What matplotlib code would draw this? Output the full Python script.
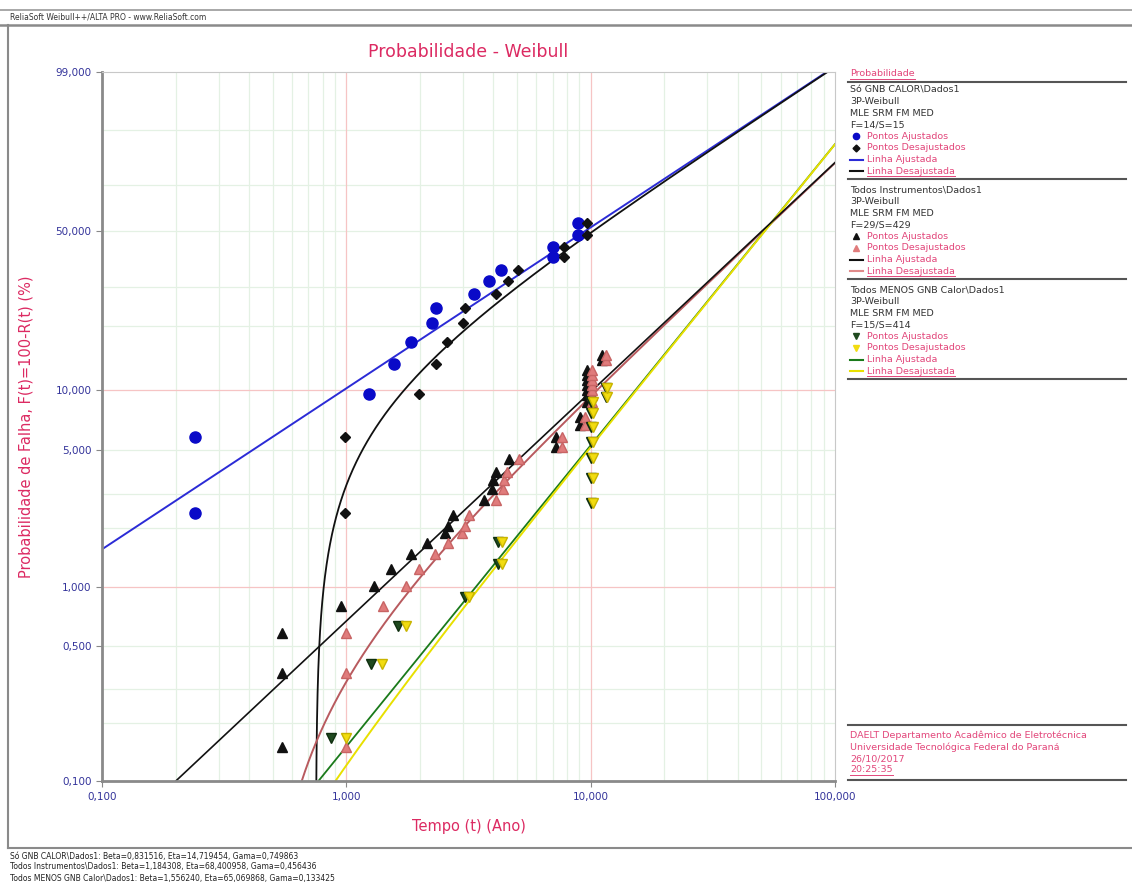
import numpy as np
import matplotlib
matplotlib.use("Agg")
import matplotlib.pyplot as plt

# ---- 3-parameter Weibull fits (beta, eta, gamma) ----
gnb_beta, gnb_eta, gnb_gamma = 0.831516, 14.719454, 0.749863
tod_beta, tod_eta, tod_gamma = 1.184308, 68.400958, 0.456436
men_beta, men_eta, men_gamma = 1.556240, 65.069868, 0.133425

# ---- failure times (years) and unreliability (%) ----
gnb_t = [0.99, 0.99, 1.99, 2.32, 2.59, 2.99, 3.07, 4.08, 4.57, 5.06, 7.76, 7.76, 9.63, 9.63]
gnb_f = [2.40, 5.81, 9.51, 13.3, 16.9, 20.7, 24.3, 28.0, 31.8, 35.4, 39.9, 43.7, 48.4, 53.4]

tod_t = [1.0, 1.0, 1.0, 1.41, 1.76, 1.985, 2.30, 2.60, 2.98, 3.07, 3.18, 4.10, 4.39, 4.43,
         4.54, 5.07, 7.64, 7.64, 9.47, 9.47, 10.08, 10.1, 10.1, 10.1, 10.1, 10.1, 10.1,
         11.6, 11.6]
tod_f = [0.15, 0.36, 0.58, 0.80, 1.01, 1.24, 1.48, 1.68, 1.89, 2.06, 2.34, 2.79, 3.17, 3.53,
         3.87, 4.51, 5.18, 5.81, 6.68, 7.32, 8.69, 9.41, 9.96, 10.5, 11.1, 11.8, 12.4,
         13.9, 14.7]

men_t = [1.0, 1.40, 1.76, 3.18, 4.32, 4.32, 10.2, 10.2, 10.2, 10.2, 10.2, 10.2, 10.2,
         11.7, 11.7]
men_f = [0.167, 0.40, 0.63, 0.89, 1.31, 1.70, 2.69, 3.61, 4.56, 5.49, 6.53, 7.66, 8.69,
         9.19, 10.2]

x_ticks = [0.1, 1, 10, 100]
y_ticks = [0.1, 0.5, 1, 5, 10, 50, 99]

TXT_RED = "#dc2a62"
LEG_RED = "#e2467a"
TICK_BLUE = "#33339a"
GRID = "#e4f1e4"


def weib_fwd(p):
    p = np.clip(np.asarray(p, dtype=float), 1e-7, 99.99999)
    return np.log(-np.log(1.0 - p / 100.0))


def weib_inv(w):
    return 100.0 * (1.0 - np.exp(-np.exp(np.asarray(w, dtype=float))))


def cdf_pct(x, beta, eta):
    x = np.asarray(x, dtype=float)
    return 100.0 * (1.0 - np.exp(-(x / eta) ** beta))


W, H = 1132, 882
fig = plt.figure(figsize=(W / 100, H / 100), dpi=100)
fig.patch.set_facecolor("white")

L, R, T, B = 102, 835, 72, 781
ax = fig.add_axes([L / W, 1 - B / H, (R - L) / W, (B - T) / H])
ax.set_xscale("log")
ax.set_yscale("function", functions=(weib_fwd, weib_inv))
ax.set_xlim(0.1, 100)
ax.set_ylim(0.1, 99)

# grid
for dec in [0.1, 1, 10]:
    for k in range(2, 10):
        ax.axvline(dec * k, color=GRID, lw=0.9, zorder=0)
for xv in [1, 10]:
    ax.axvline(xv, color="#f6c4c4", lw=0.9, zorder=0.5)
for v in [0.2, 0.3, 0.5, 2, 3, 5, 20, 30, 50, 70, 90]:
    ax.axhline(v, color=GRID, lw=0.9, zorder=0)
for yv in [1, 10]:
    ax.axhline(yv, color="#f6c4c4", lw=0.9, zorder=0.5)

# fitted lines
xa = np.logspace(-1, 2, 600)
d = np.logspace(-7, 2.05, 1500)

ax.plot(xa, cdf_pct(xa, gnb_beta, gnb_eta), color="#2b2bd6", lw=1.4, zorder=2)
ax.plot(d + gnb_gamma, cdf_pct(d, gnb_beta, gnb_eta), color="#111111", lw=1.3, zorder=2)

ax.plot(d + tod_gamma, cdf_pct(d, tod_beta, tod_eta), color="#b85a5e", lw=1.4, zorder=2)
ax.plot(xa, cdf_pct(xa, tod_beta, tod_eta), color="#111111", lw=1.2, zorder=2.1)

ax.plot(xa, cdf_pct(xa, men_beta, men_eta), color="#1a7a1a", lw=1.3, zorder=2)
ax.plot(d + men_gamma, cdf_pct(d, men_beta, men_eta), color="#e8e000", lw=1.4, zorder=2)

# data points: adjusted points plotted at t - gamma
gt = np.array(gnb_t)
tt = np.array(tod_t)
mt = np.array(men_t)
ax.plot(gt - gnb_gamma, gnb_f, "o", color="#0a0ac8", ms=8, mec="#0a0ac8", zorder=4, ls="none")
ax.plot(gt, gnb_f, "D", color="#111111", ms=5.5, zorder=4, ls="none")
ax.plot(tt - tod_gamma, tod_f, "^", color="#111111", ms=7, zorder=4, ls="none")
ax.plot(tt, tod_f, "^", color="#e07c7c", mec="#c86464", ms=7, zorder=4.2, ls="none")
ax.plot(mt - men_gamma, men_f, "v", color="#1f4a1f", mec="#0e2e0e", ms=7, zorder=4.4, ls="none")
ax.plot(mt, men_f, "v", color="#f2dc10", mec="#c8b400", ms=7, zorder=4.6, ls="none")

# ticks
ax.set_xticks(x_ticks)
ax.set_xticklabels([f"{v:.3f}".replace(".", ",") for v in x_ticks])
ax.set_yticks(y_ticks)
ax.set_yticklabels([f"{v:.3f}".replace(".", ",") for v in y_ticks])
ax.minorticks_off()
ax.tick_params(axis="both", colors="#888888", labelcolor=TICK_BLUE, labelsize=7.5,
               length=4, width=0.8)
ax.tick_params(axis="x", pad=4)
for s in ["left", "bottom"]:
    ax.spines[s].set_color("#8a8a8a")
    ax.spines[s].set_linewidth(2)
for s in ["top", "right"]:
    ax.spines[s].set_color("#c8c8c8")
    ax.spines[s].set_linewidth(0.8)

ax.set_title("Probabilidade - Weibull", color=TXT_RED, fontsize=12.5, pad=11)
ax.set_xlabel("Tempo (t) (Ano)", color=TXT_RED, fontsize=10.5, labelpad=12)
ax.set_ylabel("Probabilidade de Falha, F(t)=100-R(t) (%)", color=TXT_RED, fontsize=10.5,
              labelpad=16)

# ---- overlay in pixel coordinates for frame, legend panel and footer ----
ov = fig.add_axes([0, 0, 1, 1], zorder=10)
ov.set_xlim(0, W)
ov.set_ylim(H, 0)
ov.axis("off")
ov.patch.set_visible(False)

ov.plot([0, W], [10, 10], color="#9a9a9a", lw=1.2)
ov.plot([0, W], [25, 25], color="#8a8a8a", lw=1.8)
ov.text(10, 17.5, "ReliaSoft Weibull++/ALTA PRO - www.ReliaSoft.com", fontsize=5.5,
        color="#333333", va="center")
ov.plot([8, 8], [25, 848], color="#8a8a8a", lw=1.5)
ov.plot([8, W], [848, 848], color="#8a8a8a", lw=1.5)

footer = ["Só GNB CALOR\\Dados1: Beta=0,831516, Eta=14,719454, Gama=0,749863",
          "Todos Instrumentos\\Dados1: Beta=1,184308, Eta=68,400958, Gama=0,456436",
          "Todos MENOS GNB Calor\\Dados1: Beta=1,556240, Eta=65,069868, Gama=0,133425"]
for i, s in enumerate(footer):
    ov.text(10, 856 + i * 11, s, fontsize=5.5, color="#222222", va="center")

LX0, LX1 = 848, 1126
underlines = []


def ltext(x, y, s, color, underline=False):
    t = ov.text(x, y, s, fontsize=6.8, color=color, va="center")
    if underline:
        underlines.append((t, y))
    return t


ltext(850, 74, "Probabilidade", LEG_RED, underline=True)
ov.plot([LX0, LX1], [82, 82], color="#555555", lw=1.5)

blocks = [
    ("Só GNB CALOR\\Dados1", "F=14/S=15",
     dict(marker="o", color="#0a0ac8"), dict(marker="D", color="#111111", ms=3.5),
     "#2b2bd6", "#111111"),
    ("Todos Instrumentos\\Dados1", "F=29/S=429",
     dict(marker="^", color="#111111"), dict(marker="^", color="#e07c7c"),
     "#111111", "#e08a8a"),
    ("Todos MENOS GNB Calor\\Dados1", "F=15/S=414",
     dict(marker="v", color="#1f4a1f"), dict(marker="v", color="#f2dc10"),
     "#1a7a1a", "#e8e000"),
]
y0 = 90
step = 11.6
for name, fs, m1, m2, c1, c2 in blocks:
    ltext(850, y0, name, "#333333")
    ltext(850, y0 + step, "3P-Weibull", "#333333")
    ltext(850, y0 + 2 * step, "MLE SRM FM MED", "#333333")
    ltext(850, y0 + 3 * step, fs, "#333333")
    ms1 = m1.pop("ms", 4.5)
    ms2 = m2.pop("ms", 4.5)
    ov.plot([856], [y0 + 4 * step], ls="none", ms=ms1, **m1)
    ov.plot([856], [y0 + 5 * step], ls="none", ms=ms2, **m2)
    ov.plot([850, 863], [y0 + 6 * step, y0 + 6 * step], color=c1, lw=1.5)
    ov.plot([850, 863], [y0 + 7 * step, y0 + 7 * step], color=c2, lw=1.5)
    ltext(867, y0 + 4 * step, "Pontos Ajustados", LEG_RED)
    ltext(867, y0 + 5 * step, "Pontos Desajustados", LEG_RED)
    ltext(867, y0 + 6 * step, "Linha Ajustada", LEG_RED)
    ltext(867, y0 + 7 * step, "Linha Desajustada", LEG_RED, underline=True)
    ov.plot([LX0, LX1], [y0 + 7 * step + 7.5, y0 + 7 * step + 7.5], color="#555555", lw=1.5)
    y0 += 100

ov.plot([LX0, LX1], [725, 725], color="#555555", lw=1.5)
ltext(850, 735, "DAELT Departamento Acadêmico de Eletrotécnica", LEG_RED)
ltext(850, 747, "Universidade Tecnológica Federal do Paraná", LEG_RED)
ltext(850, 758.5, "26/10/2017", LEG_RED)
ltext(850, 770, "20:25:35", LEG_RED, underline=True)
ov.plot([LX0, LX1], [780, 780], color="#555555", lw=1.5)

fig.canvas.draw()
rend = fig.canvas.get_renderer()
inv = ov.transData.inverted()
for t, y in underlines:
    bb = t.get_window_extent(renderer=rend)
    (x0, _), (x1, _) = inv.transform([[bb.x0, bb.y0], [bb.x1, bb.y1]])
    ov.plot([x0, x1], [y + 4.5, y + 4.5], color=t.get_color(), lw=0.7)

fig.savefig("out.png", dpi=100, facecolor="white")
